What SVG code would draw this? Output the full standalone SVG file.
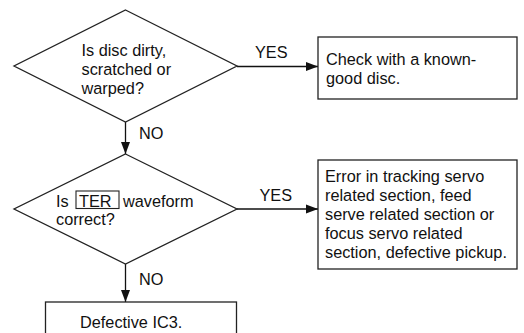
<svg xmlns="http://www.w3.org/2000/svg" width="524" height="333" viewBox="0 0 524 333">
<defs>
<marker id="ah" markerUnits="userSpaceOnUse" markerWidth="12" markerHeight="10" refX="12" refY="5" orient="auto">
<path d="M0,0.5 L12,5 L0,9.5 Z" fill="#111"/>
</marker>
<style>
text{font-family:"Liberation Sans",Arial,sans-serif;font-size:16.3px;fill:#111}
.shape{fill:#fff;stroke:#222;stroke-width:1.3}
.conn{fill:none;stroke:#111;stroke-width:1.3}
</style>
</defs>
<rect width="524" height="333" fill="#fff"/>
<g id="connectors">
<line class="conn" x1="237" y1="66.5" x2="318" y2="66.5" marker-end="url(#ah)"/>
<line class="conn" x1="125.5" y1="122" x2="125.5" y2="154" marker-end="url(#ah)"/>
<line class="conn" x1="237" y1="209" x2="318" y2="209" marker-end="url(#ah)"/>
<line class="conn" x1="125.5" y1="264" x2="125.5" y2="302" marker-end="url(#ah)"/>
<text x="255" y="58.3">YES</text>
<text x="139" y="138.5">NO</text>
<text x="259.5" y="200.5">YES</text>
<text x="139" y="285">NO</text>
</g>
<g id="q1">
<polygon class="shape" points="125.5,10 237,66 125.5,122 14,66"/>
<text x="81.5" y="55.5">Is disc dirty,</text>
<text x="81.5" y="74.5">scratched or</text>
<text x="81.5" y="93.5">warped?</text>
</g>
<g id="r1">
<rect class="shape" x="318" y="37" width="199" height="62"/>
<text x="326" y="64.5">Check with a known-</text>
<text x="326" y="83.5">good disc.</text>
</g>
<g id="q2">
<polygon class="shape" points="125.5,154 237,209 125.5,264 14,209"/>
<text x="56" y="206.5">Is</text>
<rect x="76" y="191" width="43" height="17.5" fill="none" stroke="#222" stroke-width="1.1"/>
<text x="79" y="206.5">TER</text>
<text x="123" y="206.5">waveform</text>
<text x="56" y="225">correct?</text>
</g>
<g id="r2">
<rect class="shape" x="318" y="160" width="199" height="109"/>
<text x="325" y="181.5">Error in tracking servo</text>
<text x="325" y="200.7">related section, feed</text>
<text x="325" y="220">serve related section or</text>
<text x="325" y="239.2">focus servo related</text>
<text x="325" y="258.4">section, defective pickup.</text>
</g>
<g id="r3">
<rect class="shape" x="45.5" y="302" width="191" height="40"/>
<text x="80" y="328.3">Defective IC3.</text>
</g>
</svg>
